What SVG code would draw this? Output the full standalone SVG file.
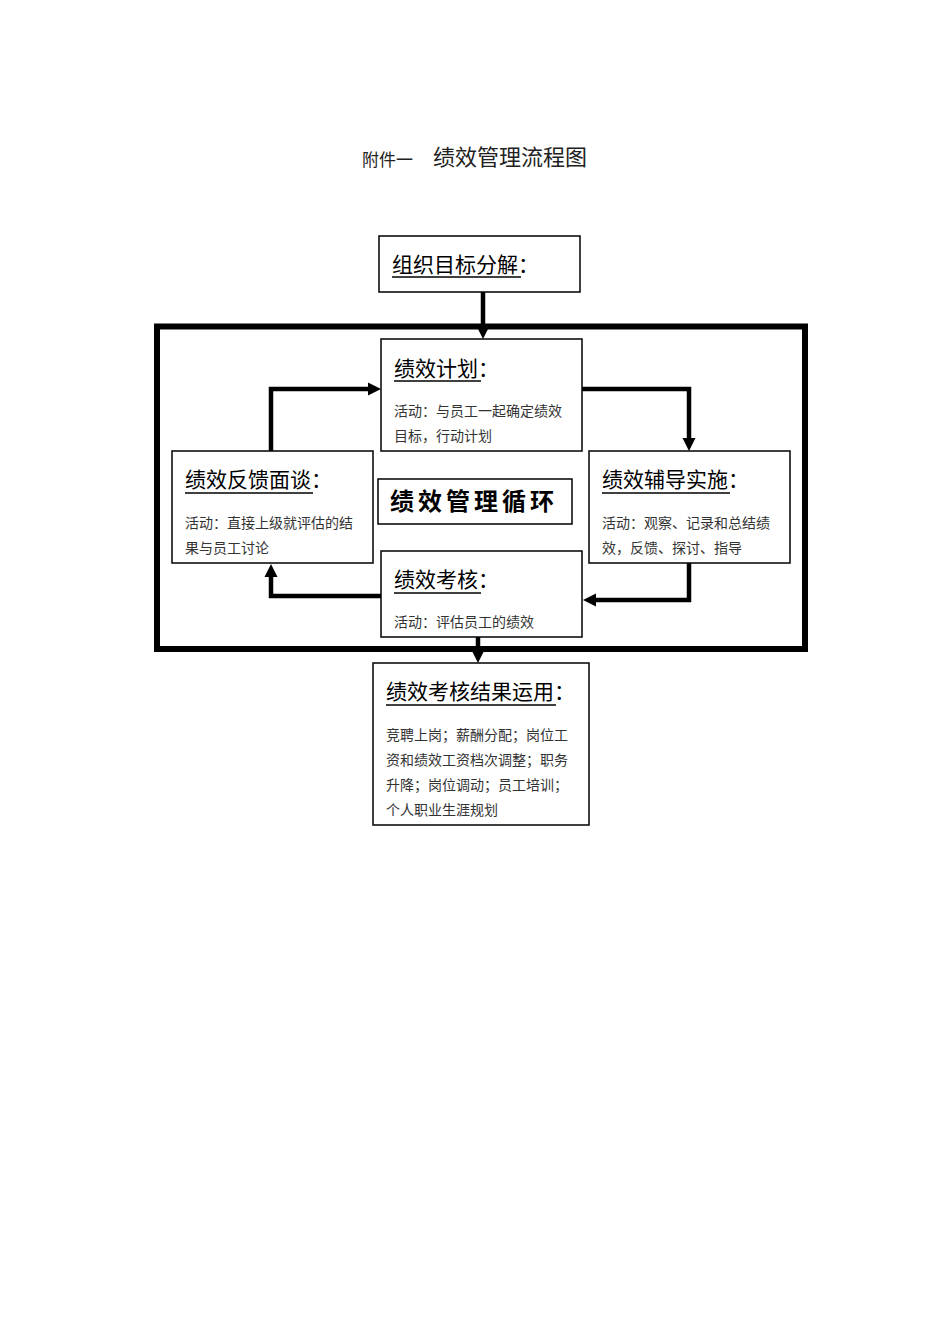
<svg xmlns="http://www.w3.org/2000/svg" width="950" height="1344" viewBox="0 0 950 1344">
<style>
.box{fill:#fff;stroke:#000;stroke-width:1.5}
.ttl{font-family:"Noto Sans CJK SC","Noto Sans",sans-serif;font-size:21px;fill:#000}
.act{font-family:"Noto Sans CJK SC","Noto Sans",sans-serif;font-size:14px;fill:#333}
.ul{stroke:#000;stroke-width:1.6}
.con{fill:none;stroke:#000;stroke-width:4.5;stroke-linejoin:miter}
</style>
<defs>
<marker id="ah" markerUnits="userSpaceOnUse" markerWidth="14" markerHeight="14" viewBox="0 -7 14 14" refX="0" refY="0" orient="auto">
<path d="M0,-6.5 L13,0 L0,6.5 z" fill="#000"/>
</marker>
</defs>
<rect width="950" height="1344" fill="#fff"/>
<g id="title">
<text x="362" y="166" font-family="Noto Sans CJK SC,sans-serif" font-size="17" fill="#222">附件一</text>
<text x="433" y="165" font-family="Noto Sans CJK SC,sans-serif" font-size="22" fill="#222">绩效管理流程图</text>
</g>
<g id="frame">
<rect x="157" y="326.5" width="648" height="322.5" fill="none" stroke="#000" stroke-width="6"/>
</g>
<g id="connectors">
<path class="con" d="M483,292 V326" marker-end="url(#ah)"/>
<path class="con" d="M582,389 H689 V438" marker-end="url(#ah)"/>
<path class="con" d="M689,563 V600 H596" marker-end="url(#ah)"/>
<path class="con" d="M381,596 H271 V577" marker-end="url(#ah)"/>
<path class="con" d="M271,451 V389 H368" marker-end="url(#ah)"/>
<path class="con" d="M478,637 V650" marker-end="url(#ah)"/>
</g>
<g id="n-goal">
<rect class="box" x="379" y="236" width="201" height="56"/>
<text class="ttl" x="392" y="272">组织目标分解：</text>
<line class="ul" x1="392" y1="277" x2="521" y2="277"/>
</g>
<g id="n-plan">
<rect class="box" x="381" y="339" width="201" height="112"/>
<text class="ttl" x="394" y="376">绩效计划：</text>
<line class="ul" x1="394" y1="381" x2="481" y2="381"/>
<text class="act" x="394" y="416">活动：与员工一起确定绩效</text>
<text class="act" x="394" y="441">目标，行动计划</text>
</g>
<g id="n-feedback">
<rect class="box" x="172" y="451" width="201" height="112"/>
<text class="ttl" x="185" y="487">绩效反馈面谈：</text>
<line class="ul" x1="185" y1="493" x2="313" y2="493"/>
<text class="act" x="185" y="528">活动：直接上级就评估的结</text>
<text class="act" x="185" y="553">果与员工讨论</text>
</g>
<g id="n-cycle">
<rect class="box" x="378" y="479" width="194" height="45"/>
<text x="390" y="510" font-family="Noto Sans CJK SC,sans-serif" font-size="24" font-weight="bold" letter-spacing="4" fill="#000">绩效管理循环</text>
</g>
<g id="n-coach">
<rect class="box" x="589" y="451" width="201" height="112"/>
<text class="ttl" x="602" y="487">绩效辅导实施：</text>
<line class="ul" x1="602" y1="493" x2="730" y2="493"/>
<text class="act" x="602" y="528">活动：观察、记录和总结绩</text>
<text class="act" x="602" y="553">效，反馈、探讨、指导</text>
</g>
<g id="n-appraise">
<rect class="box" x="381" y="551" width="201" height="86"/>
<text class="ttl" x="394" y="587">绩效考核：</text>
<line class="ul" x1="394" y1="593" x2="481" y2="593"/>
<text class="act" x="394" y="627">活动：评估员工的绩效</text>
</g>
<g id="n-result">
<rect class="box" x="373" y="663" width="216" height="162"/>
<text class="ttl" x="386" y="699">绩效考核结果运用：</text>
<line class="ul" x1="386" y1="705" x2="556" y2="705"/>
<text class="act" x="386" y="740">竞聘上岗；薪酬分配；岗位工</text>
<text class="act" x="386" y="765">资和绩效工资档次调整；职务</text>
<text class="act" x="386" y="790">升降；岗位调动；员工培训；</text>
<text class="act" x="386" y="815">个人职业生涯规划</text>
</g>
</svg>
